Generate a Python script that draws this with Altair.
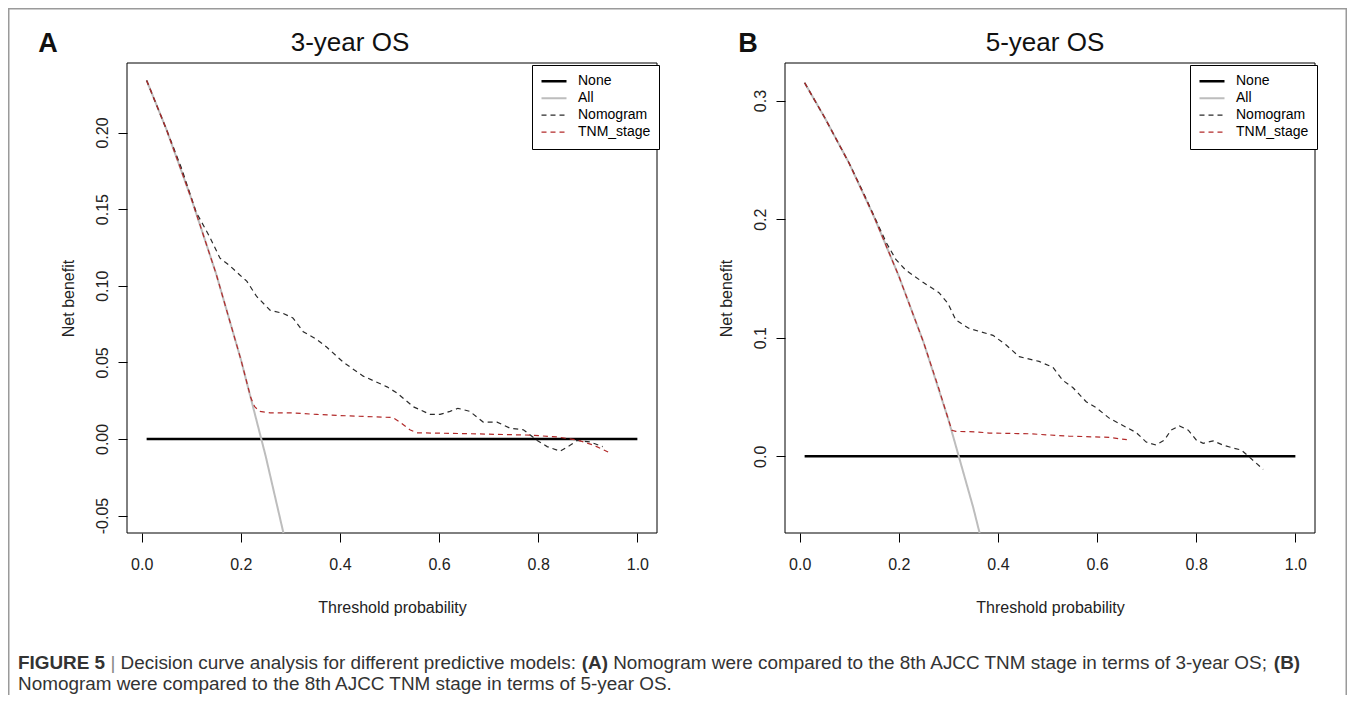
import altair as alt
import pandas as pd

# ---------------- data ----------------
SERIES = ["None", "All", "Nomogram", "TNM_stage"]
SERIES_COLORS = ["#000000", "#bdbdbd", "#2b2b2b", "#b22a2a"]
SERIES_DASH = [[1, 0], [1, 0], [5, 4], [5, 4]]
SERIES_WIDTH = [2.5, 2.0, 1.2, 1.2]

X_TICKS = [0.0, 0.2, 0.4, 0.6, 0.8, 1.0]
X_DOMAIN = [-0.0296, 1.0396]

# Panel A : 3-year OS
A_Y_TICKS = [-0.05, 0.0, 0.05, 0.10, 0.15, 0.20]
A_Y_DOMAIN = [-0.0614, 0.2454]
A_NONE_PT = [0.01, 1.0]
A_NONE_NB = [0.0, 0.0]
A_ALL_PT = [0.01, 0.05, 0.10, 0.15, 0.20, 0.25, 0.286]
A_ALL_NB = [0.234, 0.202, 0.157, 0.108, 0.052, -0.011, -0.0614]
A_NOM_PT = [0.01, 0.05, 0.08, 0.11, 0.137, 0.158, 0.178, 0.198, 0.212, 0.232,
            0.259, 0.285, 0.305, 0.326, 0.353, 0.373, 0.407, 0.447, 0.495, 0.515,
            0.548, 0.582, 0.602, 0.622, 0.638, 0.662, 0.689, 0.717, 0.743, 0.770,
            0.798, 0.818, 0.844, 0.865, 0.878, 0.905, 0.93]
A_NOM_NB = [0.234, 0.202, 0.177, 0.148, 0.132, 0.118, 0.113, 0.107, 0.103, 0.093,
            0.084, 0.082, 0.079, 0.070, 0.065, 0.060, 0.050, 0.041, 0.034, 0.030,
            0.021, 0.016, 0.016, 0.018, 0.020, 0.018, 0.011, 0.011, 0.007, 0.006,
            -0.001, -0.005, -0.008, -0.004, -0.001, -0.002, -0.005]
A_TNM_PT = [0.01, 0.05, 0.10, 0.15, 0.20, 0.22, 0.228, 0.238, 0.259, 0.305,
            0.353, 0.420, 0.507, 0.521, 0.541, 0.555, 0.649, 0.784, 0.838, 0.879,
            0.911, 0.941]
A_TNM_NB = [0.234, 0.202, 0.157, 0.108, 0.052, 0.027, 0.021, 0.018, 0.017, 0.017,
            0.016, 0.015, 0.014, 0.011, 0.006, 0.004, 0.0035, 0.0025, 0.0013, -0.0007,
            -0.004, -0.0085]

# Panel B : 5-year OS
B_Y_TICKS = [0.0, 0.1, 0.2, 0.3]
B_Y_DOMAIN = [-0.0647, 0.3317]
B_NONE_PT = [0.01, 1.0]
B_NONE_NB = [0.0, 0.0]
B_ALL_PT = [0.01, 0.05, 0.10, 0.15, 0.20, 0.25, 0.30, 0.35, 0.363]
B_ALL_NB = [0.315, 0.286, 0.247, 0.202, 0.152, 0.096, 0.031, -0.043, -0.0647]
B_NOM_PT = [0.01, 0.05, 0.10, 0.13, 0.154, 0.175, 0.194, 0.214, 0.248, 0.281,
            0.299, 0.315, 0.341, 0.39, 0.416, 0.443, 0.483, 0.511, 0.531, 0.551,
            0.578, 0.598, 0.625, 0.652, 0.679, 0.699, 0.719, 0.736, 0.749, 0.766,
            0.784, 0.80, 0.814, 0.834, 0.854, 0.874, 0.891, 0.907, 0.935]
B_NOM_NB = [0.315, 0.286, 0.247, 0.221, 0.199, 0.180, 0.166, 0.157, 0.147, 0.138,
            0.129, 0.115, 0.108, 0.102, 0.094, 0.084, 0.080, 0.075, 0.064, 0.058,
            0.046, 0.041, 0.032, 0.026, 0.020, 0.012, 0.0095, 0.0138, 0.022, 0.0256,
            0.022, 0.0138, 0.011, 0.013, 0.0095, 0.007, 0.0053, -0.0006, -0.011]
B_TNM_PT = [0.01, 0.05, 0.10, 0.15, 0.20, 0.25, 0.28, 0.30, 0.307, 0.315,
            0.356, 0.382, 0.463, 0.543, 0.625, 0.648, 0.66]
B_TNM_NB = [0.315, 0.286, 0.247, 0.202, 0.152, 0.096, 0.058, 0.031, 0.022, 0.021,
            0.0206, 0.0196, 0.019, 0.017, 0.016, 0.0146, 0.014]

TITLE_A = "3-year OS"
TITLE_B = "5-year OS"
CAPTION_1 = [("FIGURE 5", True), (" | ", False),
             ("Decision curve analysis for different predictive models: ", False),
             ("(A)", True),
             (" Nomogram were compared to the 8th AJCC TNM stage in terms of 3-year OS; ", False),
             ("(B)", True)]
CAPTION_2 = [("Nomogram were compared to the 8th AJCC TNM stage in terms of 5-year OS.", False)]

# ---------------- layout ----------------
W, H = 1339, 687
FONT = "Liberation Sans"
INK = "#222222"
BORDER = "#9a9a9a"

PLOT_TOP, PLOT_BOTTOM = 55, 525          # chart coordinates (page - 8)
A_LEFT, A_RIGHT = 119, 649
B_LEFT, B_RIGHT = 777, 1307


def frame(parts):
    rows = []
    for name, pts, nbs in parts:
        for p, v in zip(pts, nbs):
            rows.append({"series": name, "pt": p, "nb": v})
    return pd.DataFrame(rows)


def panel(df, y_domain, y_ticks, y_fmt, left, right, legend_x):
    xs = alt.Scale(domain=X_DOMAIN, range=[left, right], nice=False, zero=False)
    ys = alt.Scale(domain=y_domain, range=[PLOT_BOTTOM, PLOT_TOP], nice=False, zero=False)
    xa = alt.Axis(orient="bottom", offset=PLOT_BOTTOM - H, values=X_TICKS, format=".1f",
                  domain=False, grid=False, tickSize=9, tickColor="black", tickWidth=1,
                  labelFont=FONT, labelFontSize=16, labelColor=INK, labelPadding=14,
                  labelFlush=False, labelOverlap=False,
                  title="Threshold probability", titleFont=FONT, titleFontSize=16,
                  titleFontWeight="normal", titleColor=INK, titlePadding=27)
    expr = ("datum.value < 0 ? '-' + format(-datum.value, '%s') : format(datum.value, '%s')"
            % (y_fmt, y_fmt))
    ya = alt.Axis(orient="left", offset=-left, values=y_ticks, labelExpr=expr,
                  domain=False, grid=False, tickSize=9, tickColor="black", tickWidth=1,
                  labelFont=FONT, labelFontSize=16, labelColor=INK, labelAngle=270,
                  labelAlign="center", labelBaseline="bottom", labelPadding=8,
                  labelFlush=False, labelOverlap=False,
                  title="Net benefit", titleFont=FONT, titleFontSize=16,
                  titleFontWeight="normal", titleColor=INK, titlePadding=18)
    leg = alt.Legend(title=None, orient="none", legendX=legend_x, legendY=PLOT_TOP + 2,
                     symbolType="stroke", symbolSize=625, labelFont=FONT, labelFontSize=14,
                     labelColor="black", strokeColor="black", fillColor="white",
                     padding=8, rowPadding=0, clipHeight=16.3, labelOffset=10)
    enc = dict(
        x=alt.X("pt:Q", scale=xs, axis=xa),
        y=alt.Y("nb:Q", scale=ys, axis=ya),
        color=alt.Color("series:N", scale=alt.Scale(domain=SERIES, range=SERIES_COLORS), legend=leg),
        strokeDash=alt.StrokeDash("series:N", scale=alt.Scale(domain=SERIES, range=SERIES_DASH), legend=leg),
        strokeWidth=alt.StrokeWidth("series:N", scale=alt.Scale(type="ordinal", domain=SERIES, range=SERIES_WIDTH), legend=leg),
    )
    box_df = pd.DataFrame({"x0": [X_DOMAIN[0]], "x1": [X_DOMAIN[1]],
                           "y0": [y_domain[0]], "y1": [y_domain[1]]})
    box = alt.Chart(box_df).mark_rect(fill="white", fillOpacity=0, stroke="black", strokeWidth=1).encode(
        x=alt.X("x0:Q", scale=xs, axis=xa), x2="x1:Q",
        y=alt.Y("y0:Q", scale=ys, axis=ya), y2="y1:Q")
    lines = [alt.Chart(df).transform_filter(alt.datum.series == s).mark_line().encode(**enc)
             for s in SERIES]
    return alt.layer(box, *lines)


def text_chart(txt, x, y, size, bold=False, color=INK, align="center"):
    return alt.Chart(pd.DataFrame({"t": [txt]})).mark_text(
        x=x, y=y, font=FONT, fontSize=size, fontWeight="bold" if bold else "normal",
        color=color, align=align, baseline="alphabetic").encode(text="t:N")


# Arial / Liberation Sans advance widths (1/1000 em) for caption layout
REG = {" ": 278, "|": 260, "(": 333, ")": 333, "-": 333, ".": 278, ":": 278, ";": 278, "_": 556}
REG.update({d: 556 for d in "0123456789"})
REG.update(dict(zip("ABCDEFGHIJKLMNOPQRSTUVWXYZ",
                    [667, 667, 722, 722, 667, 611, 778, 722, 278, 500, 667, 556, 833, 722, 778,
                     667, 778, 722, 667, 611, 722, 667, 944, 667, 667, 611])))
REG.update(dict(zip("abcdefghijklmnopqrstuvwxyz",
                    [556, 556, 500, 556, 556, 278, 556, 556, 222, 222, 500, 222, 833, 556, 556,
                     556, 556, 333, 500, 278, 556, 500, 722, 500, 500, 500])))
BOLD = dict(REG)
BOLD.update({"A": 722, "B": 722, "I": 278, "|": 280})


def run_width(s, bold, size):
    tab = BOLD if bold else REG
    return sum(tab.get(c, 556) for c in s) / 1000.0 * size


CAP_SIZE = 18.9


def caption_line(runs, x0, y):
    out = []
    cur = x0
    for txt, bold in runs:
        lead = len(txt) - len(txt.lstrip(" "))
        tx = cur + run_width(" " * lead, bold, CAP_SIZE)
        color = "#888888" if txt.strip() == "|" else "#333333"
        out.append(text_chart(txt.strip(), tx, y, CAP_SIZE, bold=bold, color=color, align="left"))
        cur += run_width(txt, bold, CAP_SIZE)
    return out


dfA = frame([("None", A_NONE_PT, A_NONE_NB), ("All", A_ALL_PT, A_ALL_NB),
             ("Nomogram", A_NOM_PT, A_NOM_NB), ("TNM_stage", A_TNM_PT, A_TNM_NB)])
dfB = frame([("None", B_NONE_PT, B_NONE_NB), ("All", B_ALL_PT, B_ALL_NB),
             ("Nomogram", B_NOM_PT, B_NOM_NB), ("TNM_stage", B_TNM_PT, B_TNM_NB)])

panelA = panel(dfA, A_Y_DOMAIN, A_Y_TICKS, ".2f", A_LEFT, A_RIGHT, A_RIGHT - 125)
panelB = panel(dfB, B_Y_DOMAIN, B_Y_TICKS, ".1f", B_LEFT, B_RIGHT, B_RIGHT - 125)

one = pd.DataFrame({"k": [0]})
borders = [
    alt.Chart(one).mark_rule(color=BORDER, strokeWidth=1.5).encode(x=alt.value(0), x2=alt.value(W), y=alt.value(0.75)),
    alt.Chart(one).mark_rule(color=BORDER, strokeWidth=1.5).encode(x=alt.value(0.75), y=alt.value(0), y2=alt.value(H)),
    alt.Chart(one).mark_rule(color=BORDER, strokeWidth=1.5).encode(x=alt.value(W - 0.75), y=alt.value(0), y2=alt.value(H)),
]

texts = [
    text_chart("A", 40, 44, 27, bold=True, color="#111111"),
    text_chart(TITLE_A, 342, 43, 26, color="#111111"),
    text_chart("B", 740, 44, 27, bold=True, color="#111111"),
    text_chart(TITLE_B, 1037, 43, 26, color="#111111"),
]
texts += caption_line(CAPTION_1, 10, 661)
texts += caption_line(CAPTION_2, 10, 682)

chart = alt.layer(panelA, panelB, *borders, *texts).resolve_scale(
    x="independent", y="independent", color="independent",
    strokeDash="independent", strokeWidth="independent"
).properties(
    width=W, height=H, autosize=alt.AutoSizeParams(type="none"), padding=0
).configure_view(stroke=None)

chart.save("out.html", embed_options={"renderer": "svg", "actions": False})
